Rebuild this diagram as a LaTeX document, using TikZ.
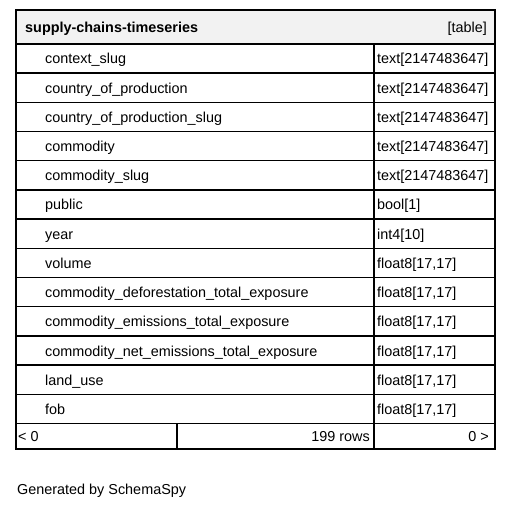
\documentclass[tikz,border=0pt]{standalone}
\usepackage{fontspec}
\setmainfont{Liberation Sans}
\begin{document}
\begin{tikzpicture}[x=1pt,y=-1pt,
  cell/.style={draw=black,line width=1.4pt},
  outer/.style={draw=black,line width=2.6pt},
  txt/.style={inner sep=0pt,font=\fontsize{14.4}{16}\selectfont},
  hdr/.style={inner sep=0pt,font=\bfseries\fontsize{14.4}{16}\selectfont}]
\useasboundingbox (0,0) rectangle (512,505);
% header
\fill[gray!10] (16,10) rectangle (495,44);
\draw[cell] (16,44) -- (495,44);
\node[hdr,anchor=base west] (title) at (25,32.5) {supply-chains-timeseries};
\node[txt,anchor=base east] (kind) at (487,32.5) {[table]};
% rows
\foreach \n/\t [count=\i from 0] in {
 context\_slug/text[2147483647],
 country\_of\_production/text[2147483647],
 country\_of\_production\_slug/text[2147483647],
 commodity/text[2147483647],
 commodity\_slug/text[2147483647],
 public/bool[1],
 year/int4[10],
 volume/float8[17{,}17],
 commodity\_deforestation\_total\_exposure/float8[17{,}17],
 commodity\_emissions\_total\_exposure/float8[17{,}17],
 commodity\_net\_emissions\_total\_exposure/float8[17{,}17],
 land\_use/float8[17{,}17],
 fob/float8[17{,}17]} {
  \pgfmathsetmacro\ya{44+29.2*\i}
  \pgfmathsetmacro\yb{73.2+29.2*\i}
  \pgfmathsetmacro\yc{64+29.2*\i}
  \draw[cell] (16,\ya) rectangle (374,\yb);
  \draw[cell] (374,\ya) rectangle (495,\yb);
  \node[txt,anchor=base west] (n\i) at (45,\yc) {\n};
  \node[txt,anchor=base west] (t\i) at (377,\yc) {\t};
}
% footer
\draw[cell] (16,423.6) rectangle (177,449);
\draw[cell] (177,423.6) rectangle (374,449);
\draw[cell] (374,423.6) rectangle (495,449);
\node[txt,anchor=base west] (prev) at (18,442) {< 0};
\node[txt,anchor=base east] (rows) at (370,442) {199 rows};
\node[txt,anchor=base east] (next) at (489,442) {0 >};
% outer
\draw[outer] (16,10) rectangle (495,449);
\node[txt,anchor=base west] (gen) at (17,494) {Generated by SchemaSpy};
\end{tikzpicture}
\end{document}
